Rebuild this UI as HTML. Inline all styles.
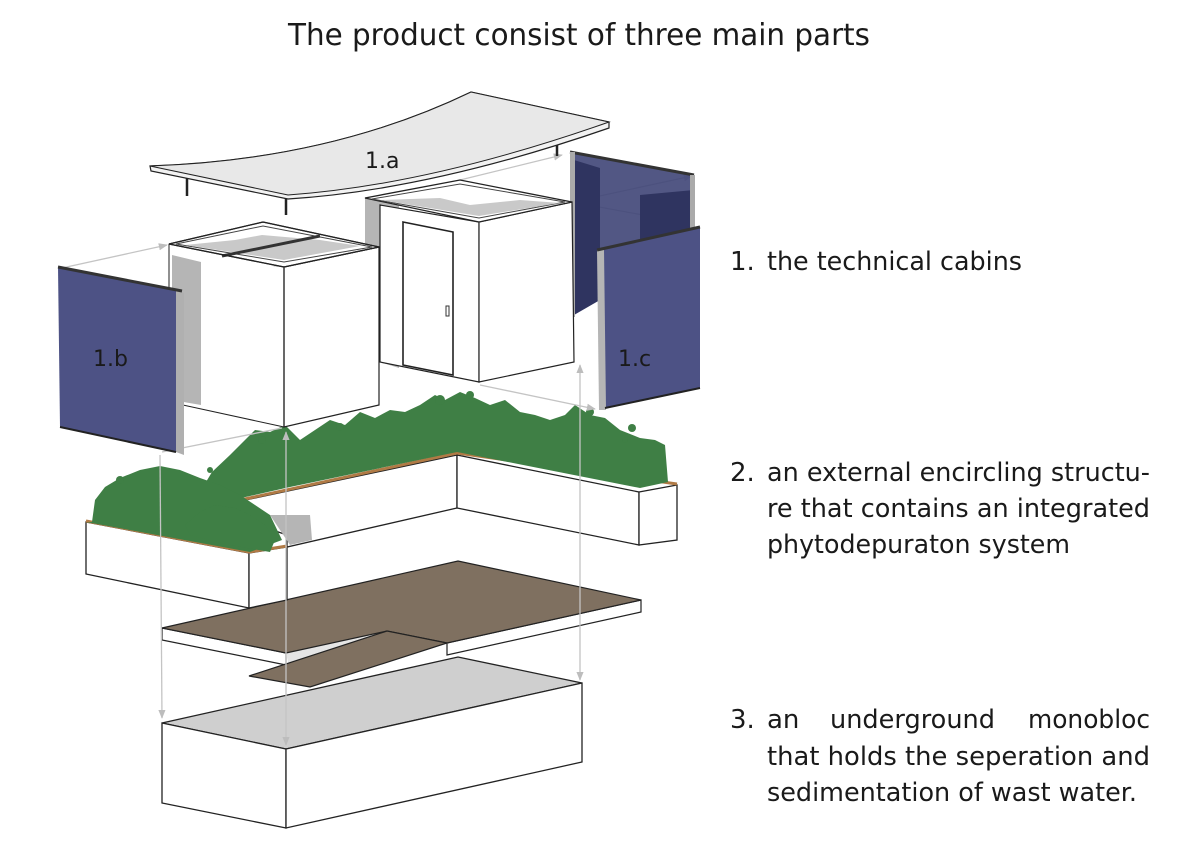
<!DOCTYPE html>
<html><head><meta charset="utf-8"><style>
html,body{margin:0;padding:0;background:#fff;}
svg{display:block;}
text{font-family:"DejaVu Sans","Liberation Sans",sans-serif;fill:#1a1a1a;}
</style></head><body>
<svg width="1193" height="844" viewBox="0 0 1193 844" xmlns="http://www.w3.org/2000/svg">
<defs>
<marker id="ah" viewBox="0 0 10 10" refX="9" refY="5" markerWidth="7" markerHeight="7" orient="auto-start-reverse"><path d="M0,1 L10,5 L0,9 z" fill="#bdbdbd"/></marker>
</defs>
<text x="288" y="45" font-size="30" textLength="582" lengthAdjust="spacingAndGlyphs">The product consist of three main parts</text>

<!-- right texts -->
<g font-size="26">
<text x="730" y="270">1.</text><text x="767" y="270" textLength="255" lengthAdjust="spacingAndGlyphs">the technical cabins</text>
<text x="730" y="481">2.</text><text x="767" y="481" textLength="383" lengthAdjust="spacingAndGlyphs">an external encircling structu-</text>
<text x="767" y="517" textLength="383" lengthAdjust="spacingAndGlyphs">re that contains an integrated</text>
<text x="767" y="553" textLength="303" lengthAdjust="spacingAndGlyphs">phytodepuraton system</text>
<text x="730" y="728">3.</text><text x="767" y="728">an</text><text x="830" y="728" textLength="165" lengthAdjust="spacingAndGlyphs">underground</text><text x="1028" y="728" textLength="122" lengthAdjust="spacingAndGlyphs">monobloc</text>
<text x="767" y="765" textLength="383" lengthAdjust="spacingAndGlyphs">that holds the seperation and</text>
<text x="767" y="801" textLength="370" lengthAdjust="spacingAndGlyphs">sedimentation of wast water.</text>
</g>

<!-- monobloc -->
<polygon points="162,723 458,657 582,683 286,749" fill="#cfcfcf" stroke="#222" stroke-width="1.3"/>
<polygon points="162,723 286,749 286,828 162,803" fill="#fff" stroke="#222" stroke-width="1.3"/>
<polygon points="286,749 582,683 582,762 286,828" fill="#fff" stroke="#222" stroke-width="1.3"/>

<!-- brown slab -->
<polygon points="162,628 286,653 286,665 162,640" fill="#fff" stroke="#222" stroke-width="1.2"/>
<polygon points="447,643 641,600 641,612 447,655" fill="#fff" stroke="#222" stroke-width="1.2"/>
<polygon points="286,653 387,631 447,643 290,670" fill="#e5e5e5"/>
<polygon points="162,628 458,561 641,600 447,643 387,631 286,653" fill="#7f7060" stroke="#222" stroke-width="1.2"/>
<polygon points="249,676 387,631 447,643 310,687" fill="#7f7060" stroke="#222" stroke-width="1.2"/>

<!-- planter -->
<polygon points="208,508 457,455 457,508 287,547 287,535" fill="#fff" stroke="#222" stroke-width="1.3"/>
<polygon points="457,455 639,492 639,545 457,508" fill="#fff" stroke="#222" stroke-width="1.3"/>
<polygon points="639,492 677,485 677,540 639,545" fill="#fff" stroke="#222" stroke-width="1.3"/>
<polygon points="86,522 249,553 249,608 86,574" fill="#fff" stroke="#222" stroke-width="1.3"/>
<polygon points="249,553 287,547 287,600 249,608" fill="#fff" stroke="#222" stroke-width="1.3"/>
<polygon points="270,515 310,515 312,540 290,545" fill="#b5b5b5"/>
<polyline points="208,507 457,453 677,484" fill="none" stroke="#b07a45" stroke-width="3"/>
<polyline points="86,521 249,552 287,546" fill="none" stroke="#b07a45" stroke-width="3"/>
<!-- plants -->
<g fill="#3f7f45">
<polygon points="200,492 212,472 230,455 245,440 255,430 270,432 285,425 300,440 315,430 330,420 345,425 360,412 375,418 390,410 405,412 420,405 435,395 445,400 460,392 475,398 490,405 505,400 520,412 535,415 550,420 565,415 575,405 590,415 605,418 620,430 640,438 655,440 665,445 668,482 640,488 457,452 290,487 210,505"/>
<polygon points="92,522 95,500 105,487 120,478 140,470 160,466 180,470 200,478 220,485 240,495 255,505 270,515 282,540 250,552 86,522"/>
<polygon points="185,525 200,512 215,505 235,508 250,515 265,525 275,540 270,552 230,545 190,535"/>
<circle cx="262" cy="440" r="4"/><circle cx="340" cy="427" r="4"/><circle cx="440" cy="400" r="5"/><circle cx="470" cy="395" r="4"/><circle cx="632" cy="428" r="4"/><circle cx="625" cy="440" r="3"/><circle cx="590" cy="412" r="4"/><circle cx="210" cy="470" r="3"/><circle cx="120" cy="480" r="4"/>
</g>

<!-- dimension lines -->
<g stroke="#c4c4c4" stroke-width="1.3" fill="none">
<line x1="160" y1="455" x2="162" y2="718" marker-end="url(#ah)"/>
<line x1="286" y1="432" x2="286" y2="745" marker-start="url(#ah)" marker-end="url(#ah)"/>
<line x1="580" y1="365" x2="580" y2="680" marker-start="url(#ah)" marker-end="url(#ah)"/>
<line x1="62" y1="268" x2="167" y2="245" marker-end="url(#ah)"/>
<line x1="180" y1="290" x2="282" y2="267" marker-end="url(#ah)"/>
<line x1="162" y1="452" x2="282" y2="428" />
<line x1="480" y1="385" x2="595" y2="409" marker-end="url(#ah)"/>
<line x1="480" y1="223" x2="597" y2="247" marker-start="url(#ah)" marker-end="url(#ah)"/>
<line x1="572" y1="202" x2="692" y2="176" marker-start="url(#ah)" marker-end="url(#ah)"/>
<line x1="572" y1="202" x2="692" y2="224" marker-end="url(#ah)"/>
<line x1="460" y1="180" x2="562" y2="155" marker-end="url(#ah)"/>
</g>

<!-- back panel 1.c -->
<polygon points="570,152 694,175 694,228 574,315" fill="#3f4577" opacity="0.9"/>
<polygon points="574,160 600,168 600,300 574,315" fill="#2f3460"/>
<polygon points="640,195 694,190 694,228 640,240" fill="#2f3460"/>
<polyline points="570,152 694,175" stroke="#333" stroke-width="3" fill="none"/>
<rect x="570" y="152" width="5" height="165" fill="#aaa"/>
<rect x="690" y="175" width="5" height="55" fill="#aaa"/>

<!-- right cabin -->
<polygon points="365,198 399,205 399,368 380,362 365,358" fill="#b5b5b5"/>
<polygon points="380,205 479,222 479,382 380,362" fill="#fff" stroke="#222" stroke-width="1.2"/>
<polygon points="479,222 572,202 574,362 479,382" fill="#fff" stroke="#222" stroke-width="1.2"/>
<polygon points="365,198 460,180 572,202 479,222" fill="#fff" stroke="#222" stroke-width="1.3"/>
<polygon points="372,199 460,184 565,202 479,218" fill="#fff" stroke="#444" stroke-width="1"/>
<polygon points="380,200 440,198 470,205 520,200 560,203 479,216" fill="#c9c9c9"/>
<polygon points="403,222 453,232 453,375 403,365" fill="#fff" stroke="#222" stroke-width="1.6"/>
<rect x="446" y="306" width="3" height="10" fill="none" stroke="#333"/>

<!-- roof -->
<g stroke="#222" stroke-width="1">
<line x1="187" y1="175" x2="187" y2="196" stroke-width="2.5"/>
<line x1="286" y1="195" x2="286" y2="215" stroke-width="2.5"/>
<line x1="557" y1="145" x2="557" y2="156" stroke-width="2.5"/>
</g>
<path d="M150,166 Q330,160 471,92 L609,122 L609,128 Q430,190 288,199 L151,171 Z" fill="#f2f2f2" stroke="#222" stroke-width="1.2"/>
<path d="M150,166 Q330,160 471,92 L609,122 Q430,185 288,195 Z" fill="#e8e8e8" stroke="#222" stroke-width="1"/>
<text x="365" y="168" font-size="22">1.a</text>

<!-- left cabin -->
<polygon points="172,255 201,262 201,405 172,400" fill="#b5b5b5"/>
<polygon points="201,262 284,267 284,427 201,405" fill="#fff"/>
<polyline points="169,244 169,402 284,427" fill="none" stroke="#222" stroke-width="1"/>
<polygon points="284,267 379,247 379,405 284,427" fill="#fff" stroke="#222" stroke-width="1.2"/>
<line x1="284" y1="267" x2="284" y2="427" stroke="#222" stroke-width="1.2"/>
<polygon points="169,244 263,222 379,247 284,267" fill="#fff" stroke="#222" stroke-width="1.3"/>
<polygon points="176,244 263,226 372,247 284,262" fill="#fff" stroke="#444" stroke-width="1"/>
<polygon points="185,245 235,240 262,235 320,240 360,246 284,260" fill="#c9c9c9"/>
<line x1="222" y1="256" x2="320" y2="236" stroke="#333" stroke-width="3"/>
<polygon points="169,244 263,222 379,247 284,267" fill="none" stroke="#222" stroke-width="1.3"/>

<!-- panel 1.b -->
<polygon points="58,267 180,290 176,452 60,427" fill="#4d5285"/>
<polygon points="176,290 184,293 184,455 176,452" fill="#b0b0b0"/>
<polyline points="58,267 182,291" stroke="#333" stroke-width="3" fill="none"/>
<polyline points="60,427 176,452" stroke="#222" stroke-width="2" fill="none"/>
<text x="93" y="366" font-size="22" fill="#222">1.b</text>

<!-- panel 1.c -->
<polygon points="603,250 700,227 700,388 605,408" fill="#4d5285"/>
<polygon points="597,250 604,249 606,410 599,410" fill="#b5b5b5"/>
<polyline points="597,250 700,227" stroke="#333" stroke-width="3" fill="none"/>
<polyline points="605,408 700,388" stroke="#222" stroke-width="2" fill="none"/>
<text x="618" y="366" font-size="22" fill="#222">1.c</text>
</svg>
</body></html>
